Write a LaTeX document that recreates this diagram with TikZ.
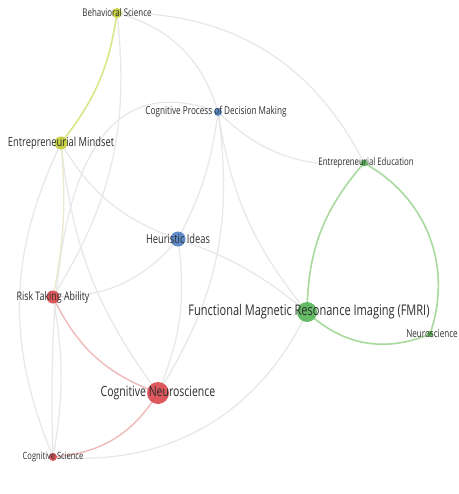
\documentclass[tikz,border=0pt]{standalone}
\usepackage{fontspec}
\usepackage{graphicx}
\setmainfont{Open Sans}
\usetikzlibrary{backgrounds}

\definecolor{linkgray}{RGB}{231,231,231}
\definecolor{linkpale}{RGB}{236,232,204}
\definecolor{linkyellow}{RGB}{218,230,135}
\definecolor{linkgreen}{RGB}{168,218,158}
\definecolor{linkred}{RGB}{240,186,186}
\definecolor{cyellow}{RGB}{196,204,52}
\definecolor{cblue}{RGB}{78,128,196}
\definecolor{cred}{RGB}{218,72,76}
\definecolor{cgreen}{RGB}{86,180,86}
\definecolor{labelgray}{RGB}{45,45,45}

% narrow setting of the sans labels
\newcommand{\narrow}[1]{\scalebox{0.75}[1]{#1}}

\begin{document}
\begin{tikzpicture}[x=1pt,y=-1pt,
  dot/.style={circle, inner sep=0pt, draw=none, opacity=0.9},
  lbl/.style={inner sep=0pt, text=labelgray},
  link/.style={draw=linkgray, line width=1.2pt},
  plink/.style={draw=linkpale, line width=1.3pt},
  ylink/.style={draw=linkyellow, line width=1.6pt},
  glink/.style={draw=linkgreen, line width=1.6pt},
  rlink/.style={draw=linkred, line width=1.4pt}]

\useasboundingbox (0,0) rectangle (458,494);

% items
\node[dot, fill=cyellow, minimum size=10pt] (bs)   at (117,13)  {};
\node[dot, fill=cblue,   minimum size=8pt]  (cpdm) at (218,112) {};
\node[dot, fill=cyellow, minimum size=13pt] (em)   at (61,143)  {};
\node[dot, fill=cgreen,  minimum size=7pt]  (ee)   at (364,163) {};
\node[dot, fill=cblue,   minimum size=15pt] (hi)   at (178,239) {};
\node[dot, fill=cred,    minimum size=13pt] (rta)  at (53,297)  {};
\node[dot, fill=cgreen,  minimum size=20pt] (fmri) at (307,312) {};
\node[dot, fill=cgreen,  minimum size=6pt]  (ns)   at (430,334) {};
\node[dot, fill=cred,    minimum size=22pt] (cn)   at (158,393) {};
\node[dot, fill=cred,    minimum size=8pt]  (cs)   at (53,457)  {};

% labels, centred on their items
\node[lbl, font=\fontsize{10.6}{12}\selectfont] (bs-l)   at (bs)   {\narrow{Behavioral Science}};
\node[lbl, font=\fontsize{10.9}{12}\selectfont] (cpdm-l) at (216,112) {\narrow{Cognitive Process of Decision Making}};
\node[lbl, font=\fontsize{12.5}{14}\selectfont] (em-l)   at (em)   {\narrow{Entrepreneurial Mindset}};
\node[lbl, font=\fontsize{10.4}{12}\selectfont] (ee-l)   at (366,163) {\narrow{Entrepreneurial Education}};
\node[lbl, font=\fontsize{12.4}{14}\selectfont] (hi-l)   at (hi)   {\narrow{Heuristic Ideas}};
\node[lbl, font=\fontsize{11.8}{14}\selectfont] (rta-l)  at (rta)  {\narrow{Risk Taking Ability}};
\node[lbl, font=\fontsize{14.7}{16}\selectfont] (fmri-l) at (309,312) {\narrow{Functional Magnetic Resonance Imaging (FMRI)}};
\node[lbl, font=\fontsize{10.8}{12}\selectfont] (ns-l)   at (432,334) {\narrow{Neuroscience}};
\node[lbl, font=\fontsize{14}{16}\selectfont]   (cn-l)   at (cn)   {\narrow{Cognitive Neuroscience}};
\node[lbl, font=\fontsize{10}{12}\selectfont]   (cs-l)   at (cs)   {\narrow{Cognitive Science}};

\begin{pgfonlayer}{background}
  \fill[white] (0,0) rectangle (458,494);
  % links between clusters
  \draw[link] (bs.center) to[bend left=32] (ee.center);
  \draw[link] (bs.center) to[bend left=29] (cpdm.center);
  \draw[link] (bs.center) to[bend left=19] (rta.center);
  \draw[link] (cs.center) .. controls (45,220) and (80,60) .. (cpdm.center);
  \draw[link] (em.center) to[bend right=20] (hi.center);
  \draw[link] (em.center) to[bend right=15] (cn.center);
  \draw[link] (em.center) to[bend right=24] (cs.center);
  \draw[link] (cpdm.center) to[bend left=10] (hi.center);
  \draw[link] (cpdm.center) to[bend right=25] (ee.center);
  \draw[link] (cpdm.center) to[bend right=15] (fmri.center);
  \draw[link] (cpdm.center) to[bend left=20] (cn.center);
  \draw[link] (hi.center) to[bend left=10] (fmri.center);
  \draw[link] (hi.center) to[bend left=15] (cn.center);
  \draw[link] (hi.center) to[bend left=25] (rta.center);
  \draw[link] (fmri.center) to[bend left=35] (cs.center);
  \draw[link] (rta.center) to[bend left=10] (cs.center);
  \draw[plink] (em.center) to[bend left=8] (rta.center);
  % links within clusters
  \draw[ylink] (bs.center) to[bend left=15] (em.center);
  \draw[glink] (fmri.center) to[bend left=20] (ee.center);
  \draw[glink] (ee.center) to[bend left=40] (ns.center);
  \draw[glink] (ns.center) to[bend left=33] (fmri.center);
  \draw[rlink] (cn.center) to[bend left=27] (cs.center);
  \draw[rlink] (cn.center) to[bend left=22] (rta.center);
\end{pgfonlayer}
\end{tikzpicture}
\end{document}
